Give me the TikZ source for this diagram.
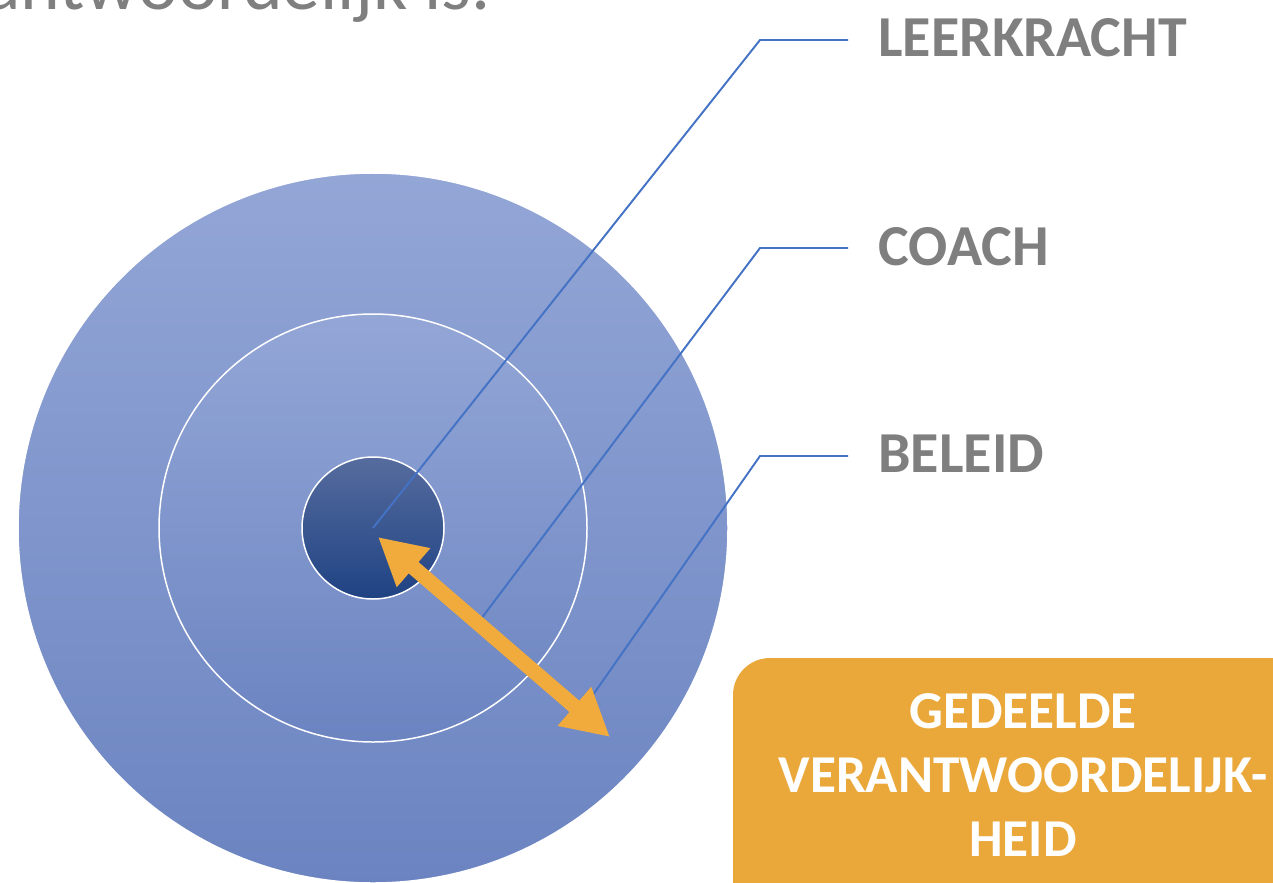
\documentclass[tikz,border=0pt]{standalone}
\usepackage{fontspec}
\setmainfont{Carlito}
\usetikzlibrary{arrows.meta}
\definecolor{leadblue}{HTML}{4472C4}
\definecolor{labelgray}{HTML}{7F7F7F}
\definecolor{ringtop}{HTML}{93A6D6}
\definecolor{ringbot}{HTML}{6B84C1}
\definecolor{coretop}{HTML}{566C9E}
\definecolor{corebot}{HTML}{1F4283}
\definecolor{shareorange}{HTML}{EBA83A}
\definecolor{arroworange}{HTML}{F0AB3C}
\begin{document}
\begin{tikzpicture}[x=0.02cm, y=-0.02cm,
    ring/.style={draw=white, line width=0.85pt, top color=ringtop, bottom color=ringbot},
    core/.style={draw=white, line width=0.85pt, top color=coretop, bottom color=corebot},
    leader/.style={draw=leadblue, line width=1.1pt},
    roletext/.style={anchor=base west, text=labelgray, inner xsep=0.6cm, inner ysep=0pt,
        font=\fontsize{33}{40}\selectfont\bfseries},
    sharearrow/.style={draw=arroworange, line width=0.3cm,
        {Triangle[width=0.96cm,length=0.94cm]}-{Triangle[width=0.96cm,length=0.94cm]}},
    boxtext/.style={text=white, align=center, font=\fontsize{30.3}{36.3}\selectfont\bfseries}]
    \useasboundingbox (0,0) rectangle (1273,882);
    \clip (0,0) rectangle (1273,882);
    \node[anchor=base east, text=labelgray, inner sep=0pt, font=\fontsize{43}{50}\selectfont] (intro) at (491,9.5) {antwoordelijk is.};
    \coordinate (c) at (373,528);
    \path[ring] (c) circle[radius=355];
    \path[ring] (c) circle[radius=214];
    \path[core] (c) circle[radius=71];
    \node[roletext] (leer) at (848,57) {LEERKRACHT};
    \node[roletext] (coach) at (848,265) {COACH};
    \node[roletext] (beleid) at (848,472) {BELEID};
    \coordinate (k1) at (760,40);
    \coordinate (k2) at (760,248);
    \coordinate (k3) at (760,456);
    \coordinate (coachfoot) at (478,623);
    \coordinate (beleidfoot) at (581,712);
    \draw[leader] (c) -- (k1) -- (k1 -| leer.west);
    \draw[leader] (coachfoot) -- (k2) -- (k2 -| coach.west);
    \draw[leader] (beleidfoot) -- (k3) -- (k3 -| beleid.west);
    \coordinate (a1) at (378,537);
    \coordinate (a2) at (610,737);
    \draw[sharearrow] (a1) -- (a2);
    \fill[shareorange, rounded corners=0.74cm] (733,658) rectangle (1330,940);
    \node[boxtext] (gedeeld) at (1023,775) {GEDEELDE\\VERANTWOORDELIJK-\\HEID};
\end{tikzpicture}
\end{document}
